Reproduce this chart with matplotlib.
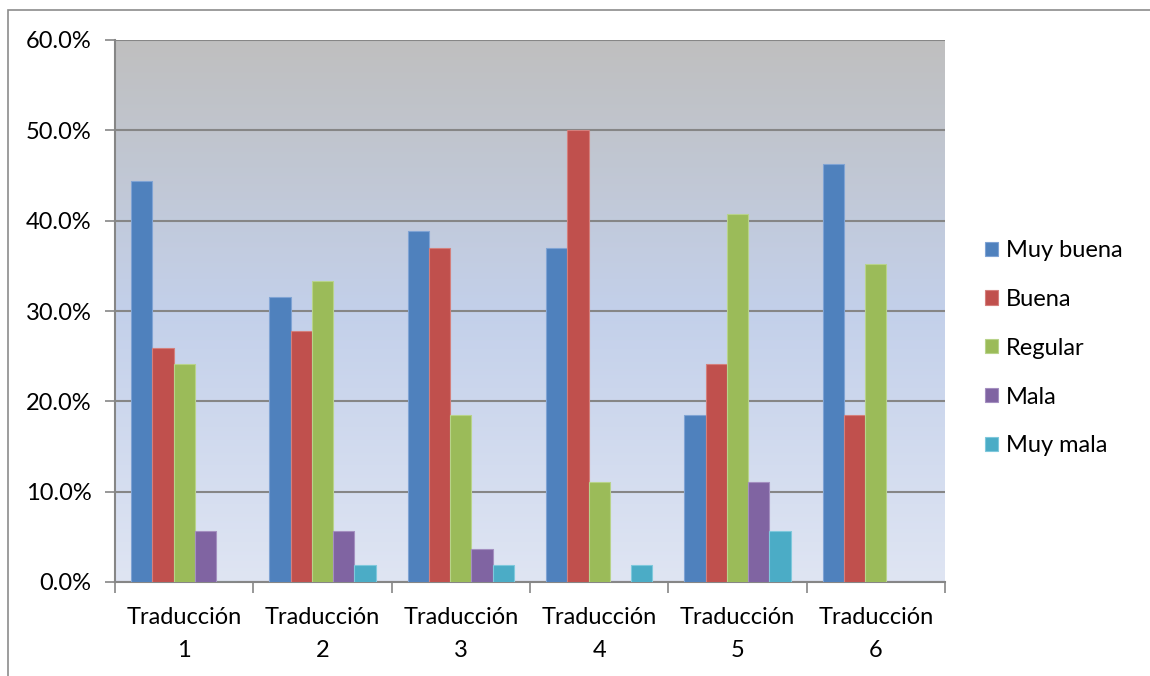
import numpy as np
import matplotlib
matplotlib.use("Agg")
import matplotlib.pyplot as plt
from matplotlib.colors import LinearSegmentedColormap
from matplotlib.patches import Rectangle
from matplotlib.ticker import FuncFormatter, FixedLocator

plt.rcParams["font.family"] = ["Lato", "DejaVu Sans"]

# Datos: porcentaje de respuestas por traducción
categories = ["Traducción\n1", "Traducción\n2", "Traducción\n3",
              "Traducción\n4", "Traducción\n5", "Traducción\n6"]
series_names = ["Muy buena", "Buena", "Regular", "Mala", "Muy mala"]
muy_buena = [44.4, 31.5, 38.9, 37.0, 18.5, 46.3]
buena = [25.9, 27.8, 37.0, 50.0, 24.1, 18.5]
regular = [24.1, 33.3, 18.5, 11.1, 40.7, 35.2]
mala = [5.6, 5.6, 3.7, 0.0, 11.1, 0.0]
muy_mala = [0.0, 1.9, 1.9, 1.9, 5.6, 0.0]
series = [muy_buena, buena, regular, mala, muy_mala]
colors = ["#4F81BD", "#C0504D", "#9BBB59", "#8064A2", "#4BACC6"]
edges = ["#7FA3D4", "#D47F7C", "#B8D38A", "#A48FC0", "#7FC8DC"]

W, H = 1150, 676
FS = 17
fig = plt.figure(figsize=(W / 100, H / 100), dpi=100)

# marco exterior del gráfico
fig.patches.append(Rectangle((8 / W, -0.1), 1.2, (H - 10) / H + 0.1,
                             transform=fig.transFigure, fill=False,
                             edgecolor="#8C8C8C", linewidth=1.2))

ax = fig.add_axes([115 / W, (H - 582) / H, (945 - 115) / W, (582 - 40) / H])

n_cat = len(categories)
n_ser = len(series)
bar_w = 1.0 / (n_ser + 1.5)
x = np.arange(n_cat)

# fondo degradado del área de trazado
grad = LinearSegmentedColormap.from_list(
    "fondo", [(0.0, "#DFE5F3"), (0.5, "#C3D0EA"), (1.0, "#BFBFBF")])
ax.imshow(np.linspace(0, 1, 256).reshape(-1, 1), cmap=grad, aspect="auto",
          extent=[-0.5, n_cat - 0.5, 0, 60], origin="lower", zorder=0)

for i, (vals, name) in enumerate(zip(series, series_names)):
    offs = (i - (n_ser - 1) / 2) * bar_w
    ax.bar(x + offs, vals, width=bar_w, color=colors[i], edgecolor=edges[i],
           linewidth=0.8, label=name, zorder=3)

ax.set_xlim(-0.5, n_cat - 0.5)
ax.set_ylim(0, 60)
ax.set_yticks(np.arange(0, 61, 10))
ax.yaxis.set_major_formatter(FuncFormatter(lambda v, p: f"{v:.1f}%"))
ax.yaxis.grid(True, color="#868686", linewidth=1.5, zorder=2)
ax.set_axisbelow(False)

ax.xaxis.set_major_locator(FixedLocator(np.arange(-0.5, n_cat, 1.0)))
ax.set_xticklabels([])
ax.set_xticks(x, minor=True)
ax.set_xticklabels(categories, minor=True, fontsize=FS, linespacing=1.7)
ax.tick_params(axis="x", which="minor", length=0, pad=18)
ax.tick_params(axis="x", which="major", length=8, width=1.2, color="#868686")
ax.tick_params(axis="y", length=7, width=1.2, color="#868686", labelsize=FS,
               pad=10)

for side in ["top", "right"]:
    ax.spines[side].set_visible(False)
for side in ["left", "bottom"]:
    ax.spines[side].set_color("#868686")
    ax.spines[side].set_linewidth(1.5)

leg = fig.legend(loc="upper left", bbox_to_anchor=(985 / W, 1 - 240 / H),
                 frameon=False, fontsize=FS, handlelength=0.55,
                 handleheight=0.55, handletextpad=0.35, labelspacing=1.18,
                 borderaxespad=0, borderpad=0)

fig.savefig("out.png", dpi=100)
